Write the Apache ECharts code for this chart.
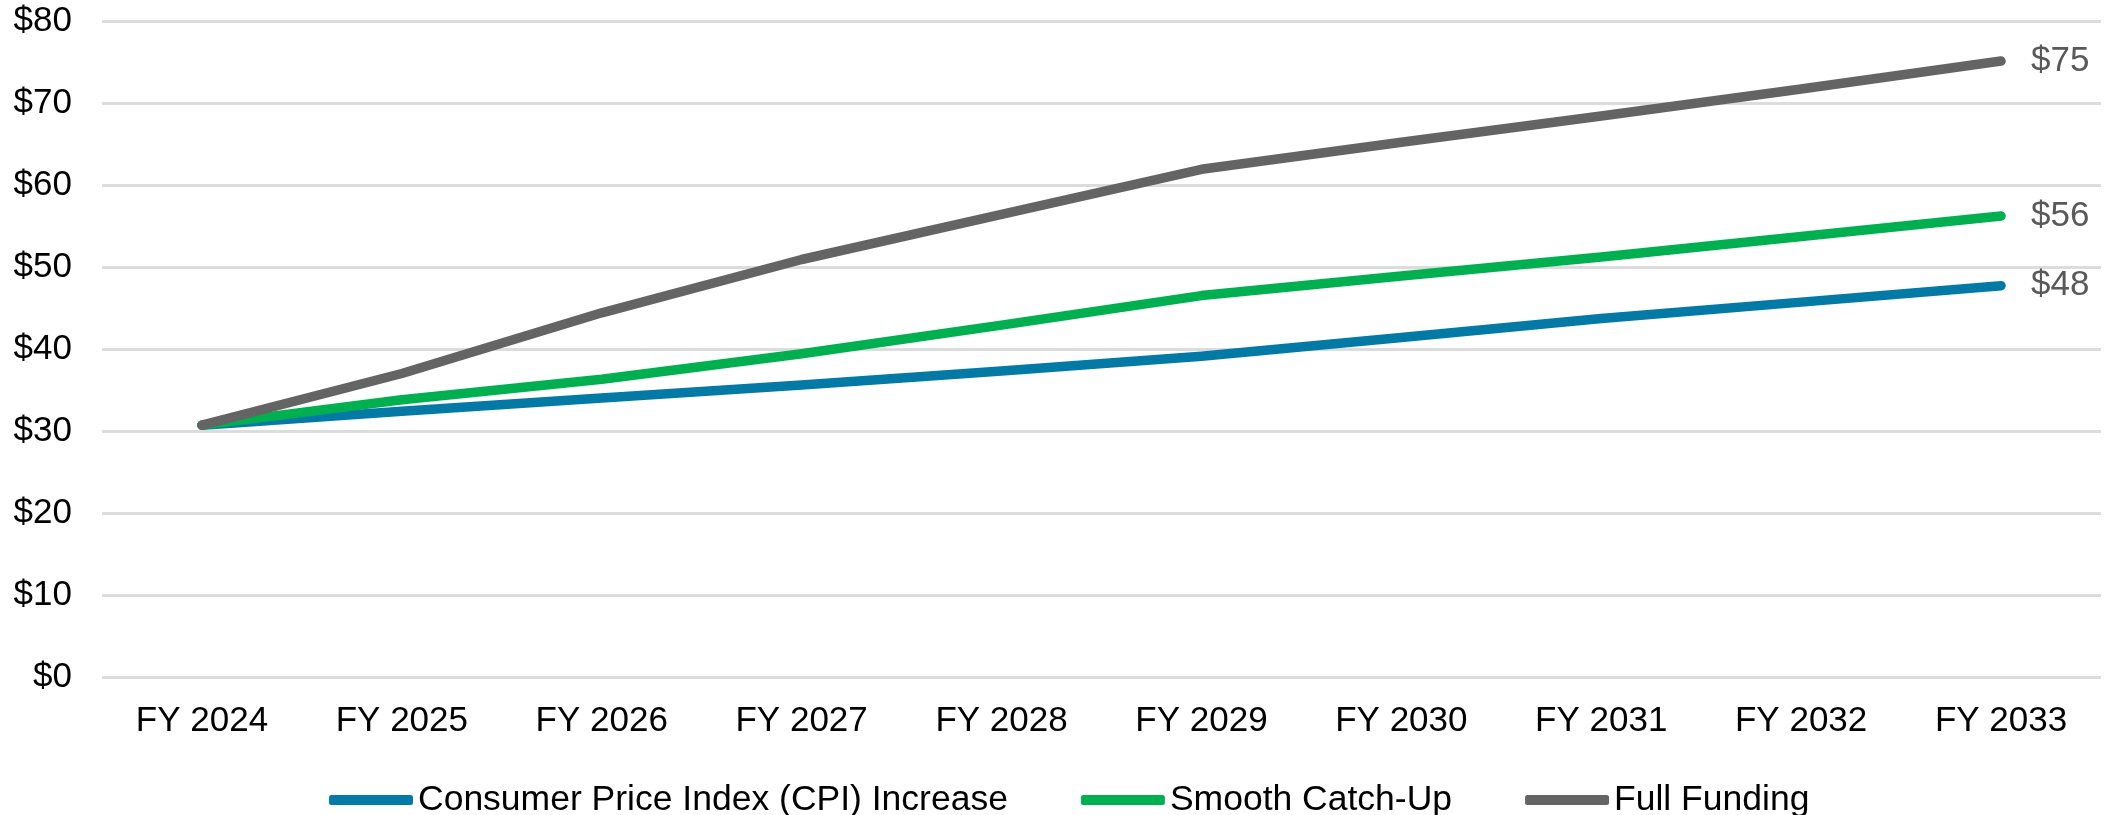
<!DOCTYPE html>
<html>
<head>
<meta charset="utf-8">
<script src="https://cdn.jsdelivr.net/npm/echarts@6/dist/echarts.min.js"></script>
<style>
  html, body { margin: 0; padding: 0; background: #fff; }
  #chart { width: 2117px; height: 815px; }
</style>
</head>
<body>
<div id="chart"></div>
<script>
// fiscal years on the x axis
var years = ['FY 2024', 'FY 2025', 'FY 2026', 'FY 2027', 'FY 2028', 'FY 2029', 'FY 2030', 'FY 2031', 'FY 2032', 'FY 2033']
// values in dollars
var cpiIncrease = [30.8, 32.5, 34.1, 35.7, 37.4, 39.2, 41.5, 43.8, 45.8, 47.8]
var smoothCatchUp = [30.8, 33.9, 36.4, 39.5, 43.0, 46.6, 49.0, 51.3, 53.8, 56.3]
var fullFunding = [30.8, 37.1, 44.5, 51.0, 56.5, 62.0, 65.3, 68.5, 71.8, 75.2]

var font = 'Liberation Sans'

function makeLine(name, data, color) {
  return {
    name: name,
    type: 'line',
    data: data,
    symbol: 'none',
    showSymbol: false,
    lineStyle: { color: color, width: 9.5, cap: 'round', join: 'round' },
    itemStyle: { color: color },
    endLabel: {
      show: true,
      distance: 30,
      color: '#595959',
      fontFamily: font,
      fontSize: 35,
      formatter: function(p) {
        return '$' + Math.round(p.value)
      }
    },
    emphasis: { disabled: true }
  }
}

var myChart = echarts.init(document.getElementById('chart'))
var option = {
  animation: false,
  textStyle: { fontFamily: font },
  grid: {
    left: 102,
    right: 16,
    top: 21.7,
    bottom: 137.3,
    containLabel: false
  },
  legend: {
    left: 324,
    top: 777,
    itemWidth: 84,
    itemHeight: 10,
    itemGap: 73,
    icon: 'roundRect',
    textStyle: { fontFamily: font, fontSize: 35.5, color: '#000', lineHeight: 34 },
    data: ['Consumer Price Index (CPI) Increase', 'Smooth Catch-Up', 'Full Funding']
  },
  xAxis: {
    type: 'category',
    data: years,
    boundaryGap: true,
    axisLine: { show: false },
    axisTick: { show: false },
    axisLabel: { margin: 26, fontSize: 35, color: '#000', fontFamily: font }
  },
  yAxis: {
    type: 'value',
    min: 0,
    max: 80,
    interval: 10,
    axisLine: { show: false },
    axisTick: { show: false },
    axisLabel: {
      margin: 30,
      fontSize: 35,
      color: '#000',
      fontFamily: font,
      formatter: function(v) {
        return '$' + v
      }
    },
    splitLine: { lineStyle: { color: '#DCDCDC', width: 3 } }
  },
  series: [
    makeLine('Consumer Price Index (CPI) Increase', cpiIncrease, '#0379A6'),
    makeLine('Smooth Catch-Up', smoothCatchUp, '#00B050'),
    makeLine('Full Funding', fullFunding, '#646464')
  ]
}
myChart.setOption(option)
</script>
</body>
</html>
